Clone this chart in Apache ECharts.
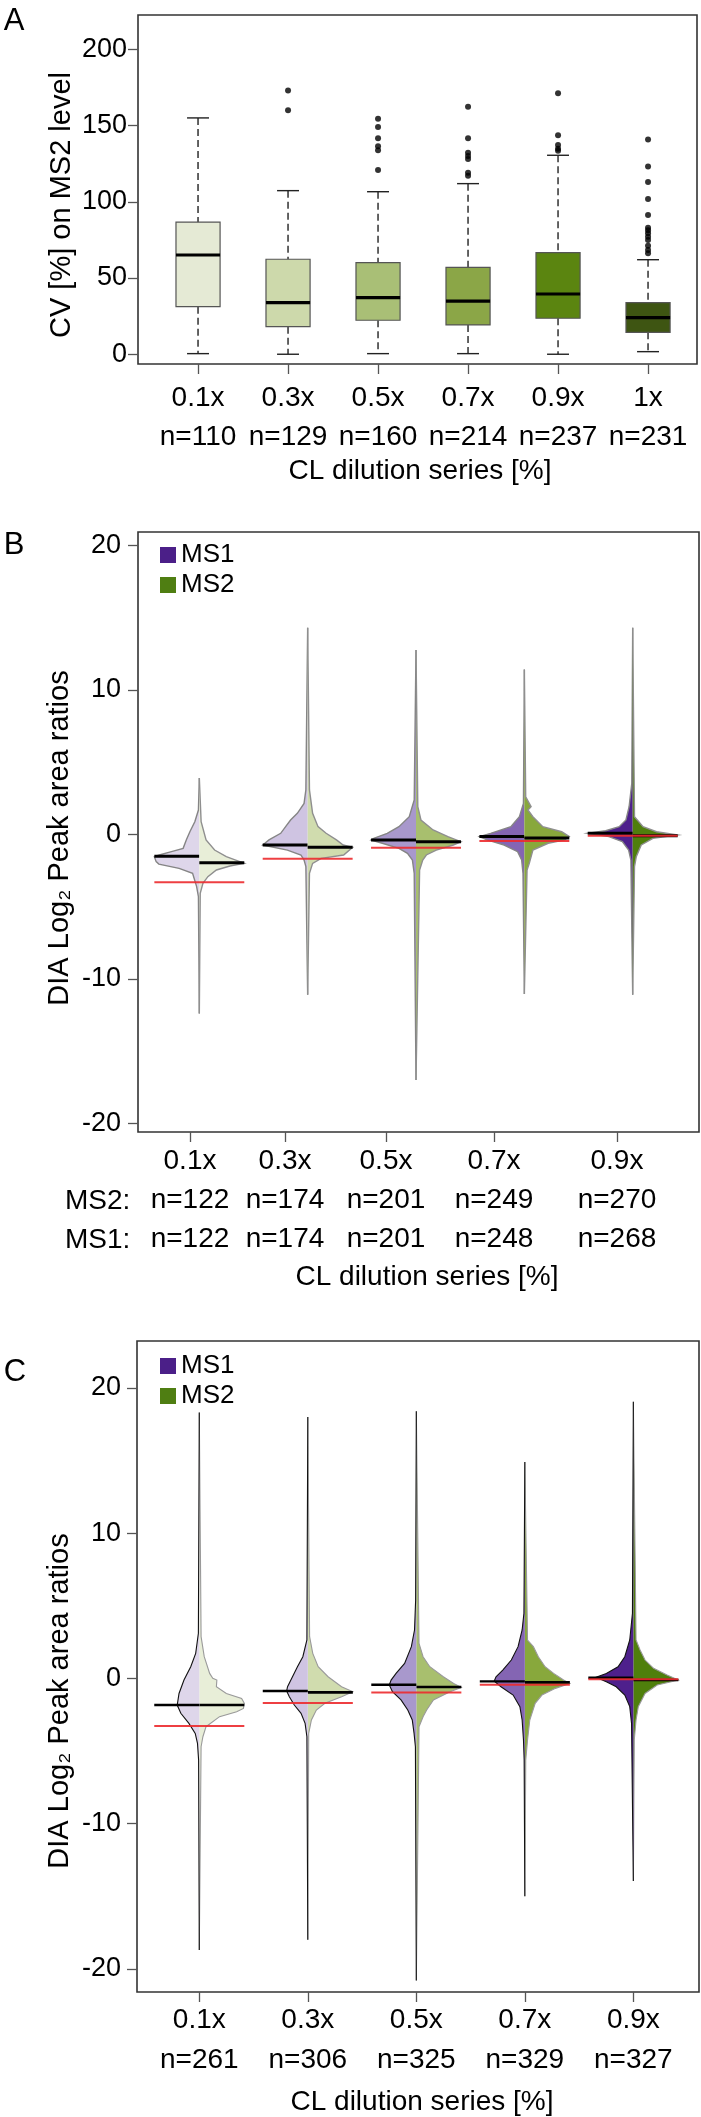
<!DOCTYPE html>
<html>
<head>
<meta charset="utf-8">
<script src="https://cdn.jsdelivr.net/npm/echarts@6/dist/echarts.min.js"></script>
<style>
  html, body { margin: 0; padding: 0; background: #fff; }
  #chart { width: 701px; height: 2117px; }
</style>
</head>
<body>
<div id="chart"></div>
<script>
// ---------- panel A : CV [%] on MS2 level (box plots) ----------
const boxCats = ['0.1x', '0.3x', '0.5x', '0.7x', '0.9x', '1x'];
const boxN = ['n=110', 'n=129', 'n=160', 'n=214', 'n=237', 'n=231'];
const boxLow = [0.4, 0, 0.4, 0.4, 0, 1.7];
const boxQ1 = [31.2, 18.1, 22.3, 19.2, 23.6, 14.4];
const boxMed = [65.1, 33.8, 37.1, 34.8, 39.5, 24.0];
const boxQ3 = [86.6, 62.3, 60.1, 57.0, 66.6, 33.8];
const boxHigh = [155.0, 107.3, 106.6, 111.9, 130.5, 62.0];
const boxOutliers = [
  [],
  [172.9, 160.0],
  [154.4, 149.1, 141.7, 136.4, 133.8, 120.9],
  [162.4, 141.6, 132.2, 130.0, 128.1, 119.1, 117.1],
  [171.1, 143.6, 137.2, 134.8, 133.5],
  [140.9, 123.2, 112.9, 101.8, 91.3, 83.0, 81.4, 79.3, 77.1, 74.9, 71.2, 68.3, 66.2]
];
const cvTicks = [0, 50, 100, 150, 200];

// ---------- panels B and C : log2 peak area ratios (bean plots) ----------
const beanCats = ['0.1x', '0.3x', '0.5x', '0.7x', '0.9x'];
const ratioTicks = [-20, -10, 0, 10, 20];

// panel B, density profiles: [log2 ratio, relative density]
const bMs1Dens = [
  [[3.9,0],[1.68,0.02],[0.87,0.1],[0.18,0.21],[-0.39,0.29],[-0.97,0.36],[-1.2,0.62],[-1.43,0.89],[-1.55,1.0],[-1.89,0.96],[-2.06,0.9],[-2.36,0.45],[-2.7,0.15],[-3.62,0.06],[-4.32,0.02],[-12.4,0]],
  [[14.3,0],[3.07,0.04],[2.14,0.08],[1.45,0.23],[0.99,0.38],[0.53,0.49],[0.07,0.6],[-0.39,0.86],[-0.74,1.0],[-1.09,0.45],[-1.43,0.15],[-1.78,0.08],[-2.24,0.04],[-11.1,0]],
  [[12.75,0],[2.37,0.04],[1.22,0.15],[0.53,0.38],[0.07,0.64],[-0.28,0.94],[-0.39,1.0],[-0.62,0.75],[-0.97,0.38],[-1.32,0.19],[-1.78,0.08],[-2.7,0.04],[-17.0,0]],
  [[11.4,0],[2.14,0.02],[1.22,0.11],[0.53,0.3],[0.07,0.75],[-0.16,1.0],[-0.39,0.83],[-0.74,0.45],[-1.2,0.15],[-1.78,0.06],[-2.7,0.03],[-11.05,0]],
  [[14.3,0],[3.53,0.02],[1.91,0.08],[0.99,0.15],[0.53,0.3],[0.25,0.6],[0.07,1.0],[-0.16,0.53],[-0.51,0.23],[-1.09,0.09],[-1.78,0.04],[-11.1,0]]
];
const bMs2Dens = [
  [[3.9,0],[0.87,0.04],[-0.39,0.15],[-1.09,0.34],[-1.55,0.6],[-1.89,0.9],[-2.01,1.0],[-2.19,0.68],[-2.47,0.38],[-2.93,0.19],[-3.39,0.08],[-4.09,0.02],[-12.4,0]],
  [[14.3,0],[3.07,0.04],[1.45,0.11],[0.53,0.23],[0.07,0.41],[-0.39,0.64],[-0.74,0.79],[-0.9,1.0],[-1.43,0.8],[-1.66,0.3],[-2.01,0.11],[-2.7,0.04],[-11.1,0]],
  [[12.75,0],[1.91,0.04],[0.99,0.11],[0.3,0.38],[-0.16,0.71],[-0.51,1.0],[-0.74,0.83],[-1.09,0.45],[-1.43,0.23],[-1.78,0.15],[-2.47,0.08],[-17.0,0]],
  [[11.4,0],[2.6,0.03],[2.14,0.11],[1.91,0.15],[1.68,0.08],[1.22,0.19],[0.53,0.41],[0.18,0.83],[-0.16,1.0],[-0.39,0.9],[-0.62,0.53],[-1.09,0.19],[-2.01,0.11],[-2.47,0.06],[-11.05,0]],
  [[14.3,0],[1.22,0.04],[0.53,0.23],[0.18,0.53],[-0.05,1.0],[-0.28,0.45],[-0.74,0.19],[-1.55,0.08],[-2.24,0.04],[-11.1,0]]
];
const bMs1Median = [-1.52, -0.74, -0.39, -0.16, 0.07];
const bMs2Median = [-1.96, -0.90, -0.51, -0.26, -0.10];
const bExpected = [-3.31, -1.69, -0.93, -0.46, -0.10];
const bMs2N = ['n=122', 'n=174', 'n=201', 'n=249', 'n=270'];
const bMs1N = ['n=122', 'n=174', 'n=201', 'n=248', 'n=268'];
const bLabelPos = [0.914, 1.791, 2.723, 3.720, 4.855];

// panel C
const cMs1Dens = [
  [[18.3,0],[3.1,0.02],[1.72,0.08],[0.8,0.19],[-0.12,0.34],[-1.04,0.45],[-1.84,0.49],[-2.41,0.41],[-3.1,0.23],[-3.79,0.09],[-4.48,0.04],[-5.63,0.015],[-18.7,0]],
  [[18.0,0],[2.64,0.02],[1.49,0.11],[0.8,0.23],[0.11,0.34],[-0.58,0.45],[-0.87,0.47],[-1.27,0.41],[-1.84,0.3],[-2.41,0.15],[-3.1,0.06],[-4.02,0.02],[-18.0,0]],
  [[18.4,0],[5.39,0.015],[3.33,0.04],[2.18,0.11],[1.03,0.26],[0.34,0.45],[-0.12,0.56],[-0.46,0.6],[-0.92,0.53],[-1.49,0.34],[-2.18,0.19],[-2.87,0.09],[-3.79,0.05],[-4.71,0.02],[-20.8,0]],
  [[14.9,0],[6.77,0.015],[4.48,0.02],[3.33,0.06],[2.18,0.15],[1.26,0.3],[0.57,0.49],[0.11,0.64],[-0.19,0.68],[-0.58,0.53],[-1.15,0.26],[-1.95,0.11],[-2.87,0.06],[-4.25,0.03],[-5.63,0.015],[-15.0,0]],
  [[19.05,0],[4.48,0.02],[2.64,0.08],[1.49,0.19],[0.8,0.34],[0.34,0.6],[0.07,0.83],[-0.23,0.6],[-0.58,0.38],[-1.15,0.19],[-1.95,0.08],[-3.1,0.04],[-13.96,0]]
];
const cMs2Dens = [
  [[18.3,0],[2.87,0.04],[1.49,0.11],[0.34,0.23],[0.0,0.3],[-0.12,0.39],[-0.58,0.38],[-1.04,0.6],[-1.38,0.94],[-1.72,1.0],[-2.07,0.98],[-2.3,0.83],[-2.64,0.45],[-3.33,0.15],[-4.02,0.08],[-4.71,0.04],[-18.7,0]],
  [[18.0,0],[2.87,0.04],[1.72,0.11],[0.8,0.23],[0.11,0.45],[-0.58,0.75],[-0.92,1.0],[-1.27,0.75],[-1.72,0.38],[-2.18,0.19],[-2.87,0.08],[-3.79,0.02],[-18.0,0]],
  [[18.4,0],[2.41,0.06],[1.49,0.15],[0.8,0.3],[0.11,0.6],[-0.35,0.83],[-0.62,1.0],[-0.92,0.75],[-1.49,0.38],[-2.18,0.23],[-2.64,0.15],[-3.33,0.06],[-20.8,0]],
  [[14.9,0],[2.64,0.06],[2.18,0.19],[1.49,0.3],[0.8,0.45],[0.34,0.64],[-0.12,0.86],[-0.35,1.0],[-0.69,0.68],[-1.15,0.38],[-1.72,0.23],[-2.87,0.11],[-4.25,0.06],[-5.63,0.02],[-15.0,0]],
  [[19.05,0],[2.64,0.06],[1.95,0.15],[1.26,0.26],[0.69,0.45],[0.23,0.75],[-0.12,1.0],[-0.46,0.53],[-1.04,0.26],[-1.95,0.11],[-2.87,0.06],[-4.25,0.02],[-13.96,0]]
];
const cMs1Median = [-1.84, -0.87, -0.44, -0.21, 0.04];
const cMs2Median = [-1.84, -0.97, -0.60, -0.28, -0.11];
const cExpected = [-3.28, -1.70, -0.97, -0.44, -0.07];
const cN = ['n=261', 'n=306', 'n=325', 'n=329', 'n=327'];

// ---------- styles ----------
const FONT = '"Liberation Sans", Arial, Helvetica, sans-serif';
const boxColors = ['#e5ead5', '#cdd9ab', '#a9bf76', '#8ba647', '#5b8510', '#3e5512'];
const ms1Fills = ['#ded6ea', '#cfc4e2', '#a898cc', '#8465b3', '#4e208c'];
const ms2Fills = ['#e8eed8', '#d0dcae', '#a8bf6e', '#88a83c', '#4f7f0c'];
const beanHalf = 0.415;

function renderBox(params, api) {
  const i = params.dataIndex, x = i + 1;
  const hw = 0.245, cap = 0.122;
  const lo = api.coord([x, boxLow[i]]), q1 = api.coord([x, boxQ1[i]]);
  const q3 = api.coord([x, boxQ3[i]]), hi = api.coord([x, boxHigh[i]]);
  const tl = api.coord([x - hw, boxQ3[i]]), br = api.coord([x + hw, boxQ1[i]]);
  const ml = api.coord([x - hw, boxMed[i]]), mr = api.coord([x + hw, boxMed[i]]);
  const cl = api.coord([x - cap, 0])[0], cr = api.coord([x + cap, 0])[0];
  const dash = { stroke: '#222', lineWidth: 1.4, lineDash: [7, 4] };
  const solid = { stroke: '#222', lineWidth: 1.4 };
  return {
    type: 'group',
    children: [
      { type: 'line', shape: { x1: hi[0], y1: hi[1], x2: q3[0], y2: q3[1] }, style: dash },
      { type: 'line', shape: { x1: q1[0], y1: q1[1], x2: lo[0], y2: lo[1] }, style: dash },
      { type: 'line', shape: { x1: cl, y1: hi[1], x2: cr, y2: hi[1] }, style: solid },
      { type: 'line', shape: { x1: cl, y1: lo[1], x2: cr, y2: lo[1] }, style: solid },
      { type: 'rect', shape: { x: tl[0], y: tl[1], width: br[0] - tl[0], height: br[1] - tl[1] },
        style: { fill: boxColors[i], stroke: '#555', lineWidth: 1.2 } },
      { type: 'line', shape: { x1: ml[0], y1: ml[1], x2: mr[0], y2: mr[1] }, style: { stroke: '#000', lineWidth: 3.2 } }
    ]
  };
}

function beanRenderer(dens, medians, side, fills, edge, edgeW, medW) {
  return function (params, api) {
    const i = params.dataIndex, x = i + 1;
    const pts = dens[i].map(d => api.coord([x + side * beanHalf * d[1], d[0]]));
    const m0 = api.coord([x, medians[i]]), m1 = api.coord([x + side * beanHalf, medians[i]]);
    return {
      type: 'group',
      children: [
        { type: 'polygon', shape: { points: pts }, style: { fill: fills[i], stroke: null } },
        { type: 'polyline', shape: { points: pts }, style: { fill: null, stroke: edge, lineWidth: edgeW } },
        { type: 'line', shape: { x1: m0[0], y1: m0[1], x2: m1[0], y2: m1[1] }, style: { stroke: '#000', lineWidth: medW } }
      ]
    };
  };
}

function expectedRenderer(vals) {
  return function (params, api) {
    const i = params.dataIndex, x = i + 1;
    const a = api.coord([x - beanHalf, vals[i]]), b = api.coord([x + beanHalf, vals[i]]);
    return { type: 'line', shape: { x1: a[0], y1: a[1], x2: b[0], y2: b[1] },
      style: { stroke: '#ec2a2e', lineWidth: 2, opacity: 0.9 } };
  };
}

const idxData = n => Array.from({ length: n }, (_, i) => [i + 1, 0]);

const outlierData = [];
boxOutliers.forEach((arr, i) => arr.forEach(v => outlierData.push([i + 1, v])));

const tickStyle = { show: true, length: 10, lineStyle: { color: '#555', width: 1.3 } };
const gridFrame = { show: true, borderColor: '#333', borderWidth: 1.6, backgroundColor: 'transparent' };

const chart = echarts.init(document.getElementById('chart'), null, { renderer: 'canvas' });
chart.setOption({
  animation: false,
  backgroundColor: '#fff',
  textStyle: { fontFamily: FONT },
  grid: [
    Object.assign({ left: 138, top: 15, width: 559, height: 349 }, gridFrame),
    Object.assign({ left: 138, top: 532, width: 561, height: 600 }, gridFrame),
    Object.assign({ left: 137, top: 1341, width: 562, height: 651 }, gridFrame)
  ],
  xAxis: [
    {
      gridIndex: 0, type: 'value', min: 0.333, max: 6.544,
      axisLine: { show: false, onZero: false }, splitLine: { show: false },
      axisTick: Object.assign({ customValues: [1, 2, 3, 4, 5, 6] }, tickStyle),
      axisLabel: { customValues: [1, 2, 3, 4, 5, 6], margin: 15, fontSize: 28, lineHeight: 39, color: '#000', fontFamily: FONT,
        formatter: v => boxCats[Math.round(v) - 1] + '\n' + boxN[Math.round(v) - 1] }
    },
    {
      gridIndex: 1, type: 'value', min: 0.434, max: 5.612,
      axisLine: { show: false, onZero: false }, splitLine: { show: false },
      axisTick: Object.assign({ customValues: bLabelPos }, tickStyle),
      axisLabel: { customValues: bLabelPos, margin: 10, fontSize: 28, lineHeight: 39, color: '#000', fontFamily: FONT,
        formatter: v => {
          const k = bLabelPos.findIndex(p => Math.abs(p - v) < 1e-6);
          return beanCats[k] + '\n' + bMs2N[k] + '\n' + bMs1N[k];
        } }
    },
    {
      gridIndex: 2, type: 'value', min: 0.426, max: 5.605,
      axisLine: { show: false, onZero: false }, splitLine: { show: false },
      axisTick: Object.assign({ customValues: [1, 2, 3, 4, 5] }, tickStyle),
      axisLabel: { customValues: [1, 2, 3, 4, 5], margin: 8, fontSize: 28, lineHeight: 40, color: '#000', fontFamily: FONT,
        formatter: v => beanCats[Math.round(v) - 1] + '\n' + cN[Math.round(v) - 1] }
    }
  ],
  yAxis: [
    {
      gridIndex: 0, type: 'value', min: -6.4, max: 222.5,
      axisLine: { show: false, onZero: false }, splitLine: { show: false },
      axisTick: Object.assign({ customValues: cvTicks }, tickStyle),
      axisLabel: { customValues: cvTicks, margin: 11, fontSize: 27, color: '#000', fontFamily: FONT }
    },
    {
      gridIndex: 1, type: 'value', min: -20.6, max: 20.92,
      axisLine: { show: false, onZero: false }, splitLine: { show: false },
      axisTick: Object.assign({ customValues: ratioTicks }, tickStyle),
      axisLabel: { customValues: ratioTicks, margin: 17, fontSize: 27, color: '#000', fontFamily: FONT }
    },
    {
      gridIndex: 2, type: 'value', min: -21.6, max: 23.23,
      axisLine: { show: false, onZero: false }, splitLine: { show: false },
      axisTick: Object.assign({ customValues: ratioTicks }, tickStyle),
      axisLabel: { customValues: ratioTicks, margin: 16, fontSize: 27, color: '#000', fontFamily: FONT }
    }
  ],
  legend: [
    { left: 155, top: 537, orient: 'vertical', icon: 'rect', itemWidth: 16, itemHeight: 16, itemGap: 4,
      selectedMode: false, data: ['MS1', 'MS2'],
      textStyle: { fontSize: 26, color: '#000', fontFamily: FONT } },
    { left: 155, top: 1348, orient: 'vertical', icon: 'rect', itemWidth: 16, itemHeight: 16, itemGap: 4,
      selectedMode: false, data: ['MS1', 'MS2'],
      textStyle: { fontSize: 26, color: '#000', fontFamily: FONT } }
  ],
  series: [
    { type: 'custom', name: 'CV', xAxisIndex: 0, yAxisIndex: 0, data: idxData(6), renderItem: renderBox },
    { type: 'scatter', name: 'outliers', xAxisIndex: 0, yAxisIndex: 0, data: outlierData,
      symbolSize: 6, itemStyle: { color: '#000' } },

    { type: 'custom', name: 'MS1', xAxisIndex: 1, yAxisIndex: 1, data: idxData(5), itemStyle: { color: '#4b1f88' },
      renderItem: beanRenderer(bMs1Dens, bMs1Median, -1, ms1Fills, '#858585', 1.4, 3) },
    { type: 'custom', name: 'MS2', xAxisIndex: 1, yAxisIndex: 1, data: idxData(5), itemStyle: { color: '#4f7e12' },
      renderItem: beanRenderer(bMs2Dens, bMs2Median, 1, ms2Fills, '#8f8f8f', 1.4, 3) },
    { type: 'custom', name: 'expected B', xAxisIndex: 1, yAxisIndex: 1, data: idxData(5), renderItem: expectedRenderer(bExpected) },

    // in panel C the MS1 outline (black) sits on top of the MS2 one
    { type: 'custom', name: 'MS2', xAxisIndex: 2, yAxisIndex: 2, data: idxData(5), itemStyle: { color: '#4f7e12' },
      renderItem: beanRenderer(cMs2Dens, cMs2Median, 1, ms2Fills, '#9a9a9a', 1.1, 2.6) },
    { type: 'custom', name: 'MS1', xAxisIndex: 2, yAxisIndex: 2, data: idxData(5), itemStyle: { color: '#4b1f88' },
      renderItem: beanRenderer(cMs1Dens, cMs1Median, -1, ms1Fills, '#111', 1.1, 2.4) },
    { type: 'custom', name: 'expected C', xAxisIndex: 2, yAxisIndex: 2, data: idxData(5), renderItem: expectedRenderer(cExpected) }
  ],
  graphic: [
    { type: 'text', x: 14, y: 21, style: { text: 'A', font: '31px ' + FONT, fill: '#000', align: 'center', verticalAlign: 'middle' } },
    { type: 'text', x: 14, y: 545, style: { text: 'B', font: '31px ' + FONT, fill: '#000', align: 'center', verticalAlign: 'middle' } },
    { type: 'text', x: 15, y: 1372, style: { text: 'C', font: '31px ' + FONT, fill: '#000', align: 'center', verticalAlign: 'middle' } },

    { type: 'text', x: 62, y: 205, rotation: Math.PI / 2,
      style: { text: 'CV [%] on MS2 level', font: '29px ' + FONT, fill: '#000', align: 'center', verticalAlign: 'middle' } },
    { type: 'text', x: 60, y: 838, rotation: Math.PI / 2,
      style: { text: 'DIA Log₂ Peak area ratios', font: '29px ' + FONT, fill: '#000', align: 'center', verticalAlign: 'middle' } },
    { type: 'text', x: 60, y: 1701, rotation: Math.PI / 2,
      style: { text: 'DIA Log₂ Peak area ratios', font: '29px ' + FONT, fill: '#000', align: 'center', verticalAlign: 'middle' } },

    { type: 'text', x: 420, y: 471, style: { text: 'CL dilution series [%]', font: '28px ' + FONT, fill: '#000', align: 'center', verticalAlign: 'middle' } },
    { type: 'text', x: 427, y: 1277, style: { text: 'CL dilution series [%]', font: '28px ' + FONT, fill: '#000', align: 'center', verticalAlign: 'middle' } },
    { type: 'text', x: 422, y: 2102, style: { text: 'CL dilution series [%]', font: '28px ' + FONT, fill: '#000', align: 'center', verticalAlign: 'middle' } },

    { type: 'text', x: 65, y: 1201, style: { text: 'MS2:', font: '28px ' + FONT, fill: '#000', align: 'left', verticalAlign: 'middle' } },
    { type: 'text', x: 65, y: 1240, style: { text: 'MS1:', font: '28px ' + FONT, fill: '#000', align: 'left', verticalAlign: 'middle' } }
  ]
});
</script>
</body>
</html>
